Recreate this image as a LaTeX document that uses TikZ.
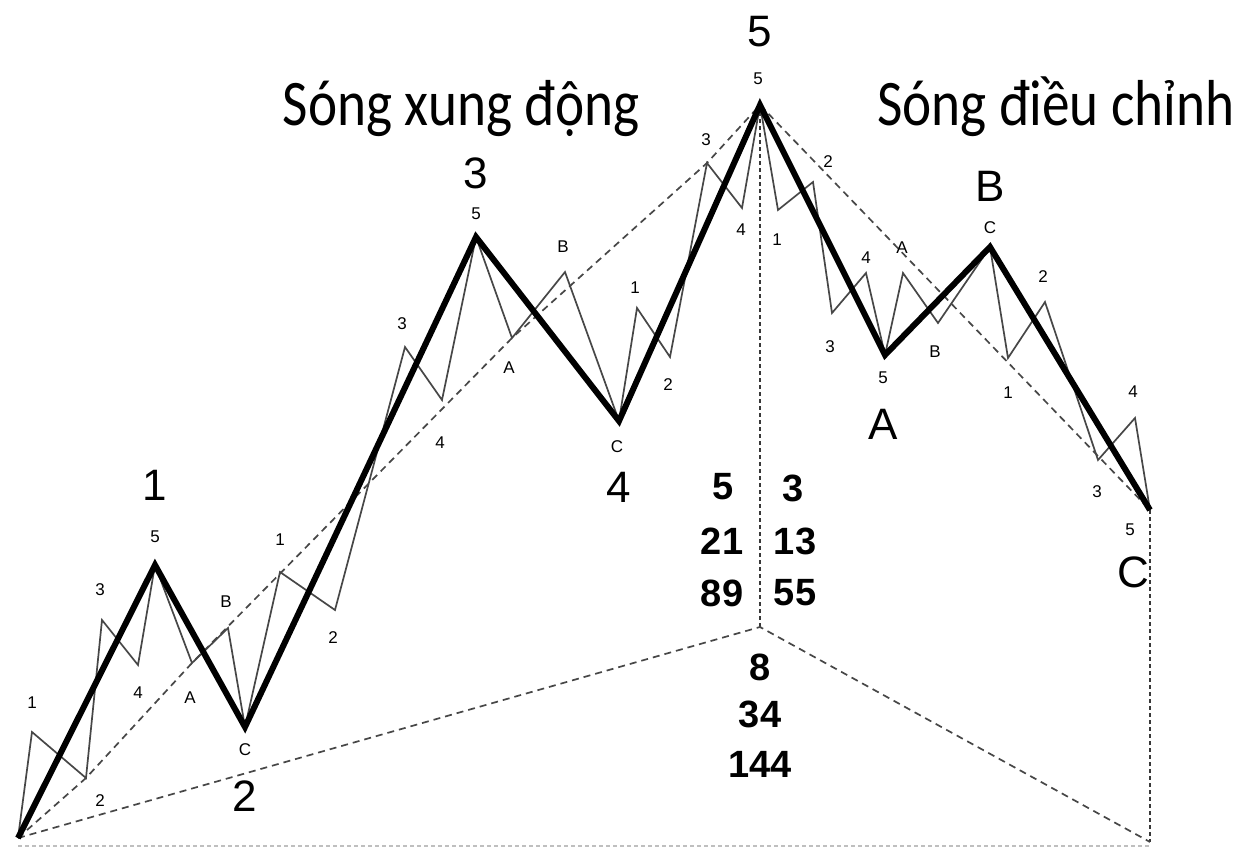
\documentclass[tikz,border=0pt]{standalone}
\usepackage{fontspec}
\setmainfont{Liberation Sans}
\newfontfamily\titlefont{Carlito}
\begin{document}
\begin{tikzpicture}[x=1pt,y=-1pt,
  mainw/.style={line width=6pt, black, line join=miter},
  subw/.style={line width=1.7pt, black!72, line join=miter},
  chan/.style={line width=1.7pt, black!72, dash pattern=on 7pt off 5pt},
  vdot/.style={line width=2.8pt, black!78, dash pattern=on 4pt off 3pt},
  bdot/.style={line width=1.5pt, black!25, dash pattern=on 4pt off 3pt},
  big/.style={inner sep=0pt, font=\fontsize{44}{44}\selectfont},
  sm/.style={inner sep=0pt, font=\fontsize{17}{17}\selectfont},
  num/.style={inner sep=0pt, font=\bfseries\fontsize{38}{38}\selectfont},
  ttl/.style={inner sep=0pt, anchor=base, font=\titlefont\fontsize{65}{65}\selectfont}]
\useasboundingbox[fill=white] (0,0) rectangle (1235,849);

% main wave points
\coordinate (O) at (18,838);
\coordinate (P1) at (155,565);
\coordinate (P2) at (245,727);
\coordinate (P3) at (476,237);
\coordinate (P4) at (619,421);
\coordinate (P5) at (760,105);
\coordinate (PA) at (885,355);
\coordinate (PB) at (990,247);
\coordinate (PC) at (1150,510);
% sub-wave points
\coordinate (a1) at (32,732);  \coordinate (a2) at (86,778);
\coordinate (a3) at (102,620); \coordinate (a4) at (138,665);
\coordinate (b1) at (192,663); \coordinate (b2) at (228,628);
\coordinate (c1) at (280,572); \coordinate (c2) at (335,610);
\coordinate (c3) at (405,347); \coordinate (c4) at (442,400);
\coordinate (d1) at (512,338); \coordinate (d2) at (565,272);
\coordinate (e1) at (637,308); \coordinate (e2) at (670,357);
\coordinate (e3) at (707,163); \coordinate (e4) at (742,208);
\coordinate (f1) at (778,210); \coordinate (f2) at (813,182);
\coordinate (f3) at (832,313); \coordinate (f4) at (866,273);
\coordinate (g1) at (903,273); \coordinate (g2) at (938,323);
\coordinate (h1) at (1008,358); \coordinate (h2) at (1045,302);
\coordinate (h3) at (1098,460); \coordinate (h4) at (1135,418);
% helper points
\coordinate (V) at (760,627);
\coordinate (BR) at (1150,842);
\coordinate (BL) at (18,846);
\coordinate (BRb) at (1150,846);

% bottom faint dotted line
\draw[bdot] (BL) -- (BRb);
% vertical dotted lines
\draw[vdot] (P5) -- (V);
\draw[vdot] (PC) -- (BR);
% channel dashed lines
\draw[chan] (O) -- (a2) -- (b1) -- (d1) -- (e3) -- (P5) -- (PC);
\draw[chan] (O) -- (V) -- (BR);

% sub waves
\draw[subw] (O) -- (a1) -- (a2) -- (a3) -- (a4) -- (P1) -- (b1) -- (b2) -- (P2)
  -- (c1) -- (c2) -- (c3) -- (c4) -- (P3) -- (d1) -- (d2) -- (P4)
  -- (e1) -- (e2) -- (e3) -- (e4) -- (P5) -- (f1) -- (f2) -- (f3) -- (f4) -- (PA)
  -- (g1) -- (g2) -- (PB) -- (h1) -- (h2) -- (h3) -- (h4) -- (PC);

% main waves
\draw[mainw] (O) -- (P1) -- (P2) -- (P3) -- (P4) -- (P5) -- (PA) -- (PB) -- (PC);

% titles
\node[ttl] (t1) at (461,125) {\scalebox{0.85}[1]{Sóng xung động}};
\node[ttl] (t2) at (1056,125) {\scalebox{0.85}[1]{Sóng điều chỉnh}};

% big labels
\node[big] (L1) at (155,485) {1};
\node[big] (L2) at (245,796) {2};
\node[big] (L3) at (476,173) {3};
\node[big] (L4) at (619,487) {4};
\node[big] (L5) at (760,32) {5};
\node[big] (LA) at (883,424) {A};
\node[big] (LB) at (990,186) {B};
\node[big] (LC) at (1133,572) {C};

% small labels
\node[sm] (s11) at (32,703) {1};
\node[sm] (s12) at (100,801) {2};
\node[sm] (s13) at (100,590) {3};
\node[sm] (s14) at (138,693) {4};
\node[sm] (s15) at (155,537) {5};
\node[sm] (s2a) at (190,698) {A};
\node[sm] (s2b) at (226,602) {B};
\node[sm] (s2c) at (245,750) {C};
\node[sm] (s31) at (280,540) {1};
\node[sm] (s32) at (333,638) {2};
\node[sm] (s33) at (402,324) {3};
\node[sm] (s34) at (440,443) {4};
\node[sm] (s35) at (476,214) {5};
\node[sm] (s4a) at (509,368) {A};
\node[sm] (s4b) at (563,247) {B};
\node[sm] (s4c) at (617,447) {C};
\node[sm] (s51) at (635,288) {1};
\node[sm] (s52) at (668,385) {2};
\node[sm] (s53) at (706,140) {3};
\node[sm] (s54) at (741,230) {4};
\node[sm] (s55) at (758,79) {5};
\node[sm] (sa1) at (777,240) {1};
\node[sm] (sa2) at (828,162) {2};
\node[sm] (sa3) at (830,347) {3};
\node[sm] (sa4) at (866,258) {4};
\node[sm] (sa5) at (883,378) {5};
\node[sm] (sba) at (902,248) {A};
\node[sm] (sbb) at (935,352) {B};
\node[sm] (sbc) at (990,228) {C};
\node[sm] (sc1) at (1008,393) {1};
\node[sm] (sc2) at (1043,277) {2};
\node[sm] (sc3) at (1097,492) {3};
\node[sm] (sc4) at (1133,392) {4};
\node[sm] (sc5) at (1130,530) {5};

% Fibonacci numbers
\node[num] (n5) at (723,487) {5};
\node[num] (n21) at (722,541) {21};
\node[num] (n89) at (722,593) {89};
\node[num] (n3) at (793,488) {3};
\node[num] (n13) at (795,541) {13};
\node[num] (n55) at (795,593) {55};
\node[num] (n8) at (760,667) {8};
\node[num] (n34) at (760,714) {34};
\node[num] (n144) at (760,764) {144};
\end{tikzpicture}
\end{document}
